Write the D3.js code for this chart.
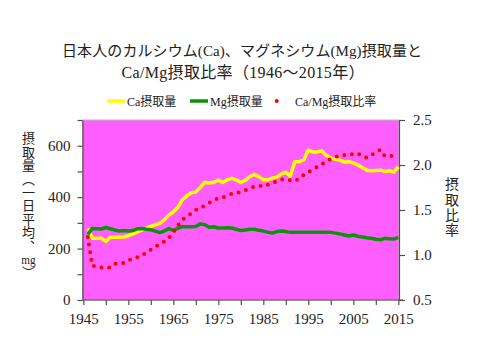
<!DOCTYPE html>
<html><head><meta charset="utf-8">
<script src="https://cdn.jsdelivr.net/npm/d3@7"></script>
<style>
html,body{margin:0;padding:0;background:#fff;}
#wrap{position:relative;width:480px;height:360px;}
svg{display:block;position:absolute;left:0;top:0;}
text{font-family:"Liberation Serif","Noto Sans CJK JP",serif;fill:#222;}
.vt{position:absolute;writing-mode:vertical-rl;font-family:"Noto Sans CJK JP",sans-serif;color:#222;white-space:nowrap;}
.vt .tcy{text-combine-upright:all;font-family:"Liberation Serif",serif;}
</style></head>
<body><div id="wrap"><svg id="c" width="480" height="360"></svg></div>
<script>
const years = [1946,1947,1948,1949,1950,1951,1952,1953,1954,1955,
  1956,1957,1958,1959,1960,1961,1962,1963,1964,1965,
  1966,1967,1968,1969,1970,1971,1972,1973,1974,1975,
  1976,1977,1978,1979,1980,1981,1982,1983,1984,1985,
  1986,1987,1988,1989,1990,1991,1992,1993,1994,1995,
  1996,1997,1998,1999,2000,2001,2002,2003,2004,2005,
  2006,2007,2008,2009,2010,2011,2012,2013,2014,2015];
const caIntake = [278,240,240,240,228,244,244,244,245,250,
  257,265,272,280,287,292,298,312,330,343,
  360,390,405,417,420,438,458,455,458,466,
  457,468,473,467,457,465,480,488,480,468,
  468,474,478,490,497,482,538,538,545,583,
  576,576,580,562,553,547,544,536,538,533,
  525,515,505,503,504,505,500,503,497,518];
const mgIntake = [255,278,277,276,282,277,272,268,270,268,
  270,277,278,275,273,268,262,268,278,271,
  279,285,285,285,286,296,293,283,285,280,
  280,281,280,275,270,272,275,275,271,268,
  264,260,266,268,266,263,263,263,263,263,
  263,263,263,263,263,260,257,253,249,253,
  248,245,242,240,236,234,240,238,237,244];
const caMgRatio = [1.20,0.88,0.87,0.86,0.86,0.86,0.90,0.91,0.91,0.94,
  0.96,0.975,0.99,1.03,1.06,1.09,1.12,1.15,1.19,1.25,
  1.33,1.39,1.43,1.46,1.50,1.52,1.55,1.58,1.61,1.63,
  1.64,1.66,1.68,1.69,1.70,1.72,1.74,1.76,1.77,1.76,
  1.78,1.80,1.82,1.84,1.83,1.83,1.82,1.85,1.89,1.92,
  1.95,1.98,2.01,2.04,2.07,2.09,2.10,2.11,2.12,2.12,
  2.13,2.10,2.08,2.11,2.14,2.17,2.10,2.10,2.10,2.10];
const xTicks = [1945,1950,1955,1960,1965,1970,1975,1980,1985,1990,1995,2000,2005,2010,2015];
const xTickLabels = ["1945","","1955","","1965","","1975","","1985","","1995","","2005","","2015"];
const leftTicks = [0,100,200,300,400,500,600,700];
const leftTickLabels = ["0","","200","","400","","600",""];
const rightTicks = [0.5,1.0,1.5,2.0,2.5];
const rightTickLabels = ["0.5","1.0","1.5","2.0","2.5"];
const titleLines = ["日本人のカルシウム(Ca)、マグネシウム(Mg)摂取量と","Ca/Mg摂取比率（1946～2015年）"];
const seriesNames = ["Ca摂取量","Mg摂取量","Ca/Mg摂取比率"];
const leftTitleMain = "摂取量（一日平均、";
const leftTitleUnit = "mg";
const leftTitleEnd = "）";
const rightTitle = "摂取比率";

const svg = d3.select("#c");
const wrap = d3.select("#wrap");
const P = {l:82.5, r:399, t:120, b:300};
const x = d3.scaleLinear().domain([1945,2015]).range([83.3,398.3]);
const yL = d3.scaleLinear().domain([0,700]).range([P.b,P.t]);
const yR = d3.scaleLinear().domain([0.5,2.5]).range([P.b,P.t]);
const C = {bg:"#ff5eff", ca:"#ffff00", mg:"#0c930c", ratio:"#ff0000", axis:"#505050"};

// title
const titleCfg = [{size:15,len:360,cx:242,y:56},{size:16,len:243,cx:243,y:78}];
svg.selectAll("text.title").data(titleLines).join("text").attr("class","title")
  .attr("x",(d,i)=>titleCfg[i].cx).attr("y",(d,i)=>titleCfg[i].y).attr("text-anchor","middle")
  .attr("textLength",(d,i)=>titleCfg[i].len).attr("lengthAdjust","spacing")
  .style("font-size",(d,i)=>titleCfg[i].size+"px").text(d=>d);

// plot background
svg.append("rect").attr("x",P.l).attr("y",P.t).attr("width",P.r-P.l).attr("height",P.b-P.t)
  .attr("fill",C.bg).attr("stroke","#b8b8b8").attr("stroke-width",1);

// axes
function styleAxis(g){
  g.selectAll("path.domain").attr("stroke",C.axis).attr("stroke-width",1.2);
  g.selectAll(".tick line").attr("stroke",C.axis).attr("stroke-width",1.2);
  g.selectAll(".tick text").style("font-size","15px").attr("fill","#222")
   .style("font-family",'"Liberation Serif",serif');
}
const gL = svg.append("g").attr("transform",`translate(${P.l},0)`)
  .call(d3.axisLeft(yL).tickValues(leftTicks).tickSize(5).tickSizeOuter(0).tickPadding(7)
    .tickFormat((d,i)=>leftTickLabels[i]));
styleAxis(gL);
const gR = svg.append("g").attr("transform",`translate(${P.r},0)`)
  .call(d3.axisRight(yR).tickValues(rightTicks).tickSize(6).tickSizeOuter(0).tickPadding(8)
    .tickFormat((d,i)=>rightTickLabels[i]));
styleAxis(gR);
const gB = svg.append("g").attr("transform",`translate(0,${P.b})`)
  .call(d3.axisBottom(x).tickValues(xTicks).tickSize(5).tickSizeOuter(0).tickPadding(8)
    .tickFormat((d,i)=>xTickLabels[i]));
styleAxis(gB);
gB.select("path.domain").attr("d",`M${P.l},0H${P.r+4}`);

// series
const lineL = (vals)=>d3.line().x((d,i)=>x(years[i])).y(d=>yL(d))(vals);
svg.append("path").attr("d",lineL(caIntake)).attr("fill","none")
  .attr("stroke",C.ca).attr("stroke-width",3.5).attr("stroke-linejoin","round");
svg.append("path").attr("d",lineL(mgIntake)).attr("fill","none")
  .attr("stroke",C.mg).attr("stroke-width",3.5).attr("stroke-linejoin","round");
svg.append("path").attr("d",d3.line().x((d,i)=>x(years[i])).y(d=>yR(d))(caMgRatio))
  .attr("fill","none").attr("stroke",C.ratio).attr("stroke-width",4)
  .attr("stroke-linecap","round").attr("stroke-dasharray","0 7.7");

// legend
const lg = svg.append("g");
const legY = 101;
const legItems = [
  {x0:107,x1:125,tx:127,color:C.ca,dash:null},
  {x0:190,x1:208,tx:210,color:C.mg,dash:null},
  {x0:276.7,x1:285.7,tx:295,color:C.ratio,dash:"0 9"}];
legItems.forEach((it,i)=>{
  const l = lg.append("line").attr("x1",it.x0).attr("x2",it.x1).attr("y1",legY).attr("y2",legY)
    .attr("stroke",it.color);
  if(it.dash){l.attr("stroke-width",4).attr("stroke-linecap","round").attr("stroke-dasharray",it.dash);}
  else l.attr("stroke-width",3.5);
  lg.append("text").attr("x",it.tx).attr("y",legY+4.5).style("font-size","12px").text(seriesNames[i]);
});

// axis titles (vertical, real text)
const lt = wrap.append("div").attr("class","vt")
  .style("left","20px").style("top","132px").style("font-size","13px")
  .style("line-height","16px").style("letter-spacing","0.4px");
lt.append("span").text(leftTitleMain);
lt.append("span").attr("class","tcy").text(leftTitleUnit);
lt.append("span").text(leftTitleEnd);
wrap.append("div").attr("class","vt")
  .style("left","444px").style("top","176.5px").style("font-size","14px")
  .style("line-height","16px").style("letter-spacing","1.3px").text(rightTitle);
</script></body></html>
